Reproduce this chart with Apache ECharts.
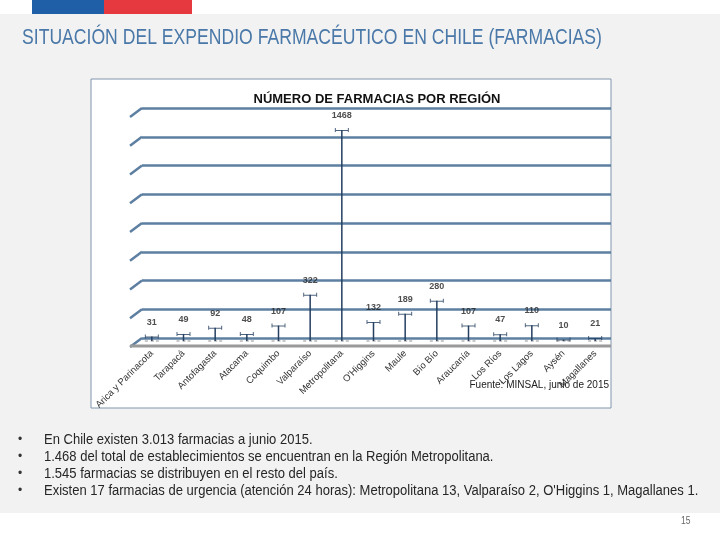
<!DOCTYPE html>
<html>
<head>
<meta charset="utf-8">
<script src="https://cdn.jsdelivr.net/npm/echarts@6/dist/echarts.min.js"></script>
<style>
  html, body { margin: 0; padding: 0; background: #fff; }
  #chart { width: 720px; height: 540px; }
</style>
</head>
<body>
<div id="chart"></div>
<script>
// regiones y numero de farmacias (MINSAL, junio 2015)
const regiones = ['Arica y Parinacota', 'Tarapacá', 'Antofagasta', 'Atacama', 'Coquimbo',
  'Valparaíso', 'Metropolitana', "O'Higgins", 'Maule', 'Bío Bío', 'Araucanía',
  'Los Ríos', 'Los Lagos', 'Aysén', 'Magallanes'];
const farmacias = [31, 49, 92, 48, 107, 322, 1468, 132, 189, 280, 107, 47, 110, 10, 21];
const yMax = 1600;
const yStep = 200;

const bullets = [
  'En Chile existen 3.013 farmacias a junio 2015.',
  '1.468 del total de establecimientos se encuentran en la Región Metropolitana.',
  '1.545 farmacias se distribuyen en el resto del país.',
  "Existen 17 farmacias de urgencia (atención 24 horas): Metropolitana 13, Valparaíso 2, O'Higgins 1, Magallanes 1."
];

const sans = "'Liberation Sans', sans-serif";
const navy = '#243f60';
const gridBlue = '#5d7fa1';

const chart = echarts.init(document.getElementById('chart'));

// texto angosto (no hay fuente narrow instalada): se comprime en x
function narrowText(x, y, text, size, color, sx) {
  return { type: 'text', x: x, y: y, scaleX: sx, scaleY: 1,
    style: { text: text, font: size + 'px ' + sans, fill: color, align: 'left', verticalAlign: 'middle' } };
}

const graphics = [
  { type: 'rect', shape: { x: 0, y: 14, width: 720, height: 499 }, style: { fill: '#f2f2f2' }, z: -10 },
  { type: 'rect', shape: { x: 32, y: 0, width: 72, height: 14 }, style: { fill: '#1f5fa8' } },
  { type: 'rect', shape: { x: 104, y: 0, width: 88, height: 14 }, style: { fill: '#e5383f' } },
  { type: 'rect', shape: { x: 91, y: 79, width: 520, height: 329 },
    style: { fill: '#fff', stroke: '#8096ad', lineWidth: 1 }, z: -9 },
  narrowText(22, 38, 'SITUACIÓN DEL EXPENDIO FARMACÉUTICO EN CHILE (FARMACIAS)', 22, '#4a78a8', 0.8),
  narrowText(681, 521, '15', 10, '#666', 0.85)
];
bullets.forEach((t, i) => {
  graphics.push(narrowText(18, 440 + i * 17, '•', 12, '#333', 1));
  graphics.push(narrowText(44, 440 + i * 17, t, 14, '#262626', 0.93));
});

chart.setOption({
  animation: false,
  title: [
    { text: 'NÚMERO DE FARMACIAS POR REGIÓN', left: 372, top: 88, textAlign: 'center',
      textStyle: { fontFamily: 'Liberation Sans', fontSize: 13, fontWeight: 'bold', color: '#111' } },
    { text: 'Fuente: MINSAL, junio de 2015', right: 106, top: 375,
      textStyle: { fontFamily: 'Liberation Sans', fontSize: 10, fontWeight: 'normal', color: '#222' } }
  ],
  grid: [
    { left: 142, right: 109, top: 108, bottom: 202 },
    { left: 136, right: 109, top: 111, bottom: 199 }
  ],
  xAxis: [
    { gridIndex: 0, type: 'category', data: regiones, show: false },
    { gridIndex: 1, type: 'category', data: regiones,
      axisLine: { show: false }, axisTick: { show: false },
      axisLabel: { interval: 0, rotate: 45, margin: 11, fontFamily: 'Liberation Sans', fontSize: 9.5, color: '#333' } }
  ],
  yAxis: [
    { gridIndex: 0, type: 'value', min: 0, max: yMax, interval: yStep,
      axisLine: { show: false }, axisTick: { show: false }, axisLabel: { show: false },
      splitLine: { lineStyle: { color: gridBlue, width: 2.5 } } },
    { gridIndex: 1, type: 'value', min: 0, max: yMax, interval: yStep, show: false,
      splitLine: { show: false } }
  ],
  series: [
    { type: 'bar', xAxisIndex: 1, yAxisIndex: 1, data: farmacias, barWidth: 1.5,
      itemStyle: { color: navy }, z: 3 },
    { type: 'scatter', xAxisIndex: 1, yAxisIndex: 1, data: farmacias.map(() => 0),
      symbol: 'path://M0,0H3V1H0Z M6,0H9V1H6Z M11,0H14V1H11Z', symbolSize: [14, 1],
      itemStyle: { color: '#777' }, z: 2 },
    { type: 'scatter', xAxisIndex: 1, yAxisIndex: 1, data: farmacias,
      symbol: 'path://M0,0H1V2H13V0H14V4H13V3H1V4H0Z', symbolSize: [14, 4],
      itemStyle: { color: navy }, z: 4,
      label: { show: true, position: 'top', distance: 8, fontFamily: 'Liberation Sans',
        fontSize: 9, fontWeight: 'bold', color: '#222' } }
  ],
  graphic: graphics
});

// decoracion 3D: tramos inclinados a la izquierda de cada linea y piso gris
const deco = [];
for (let v = 0; v <= yMax; v += yStep) {
  const y = chart.convertToPixel({ yAxisIndex: 0 }, v);
  deco.push({ type: 'line', shape: { x1: 130, y1: y + 9, x2: 142, y2: y },
    style: { stroke: gridBlue, lineWidth: 2.5 } });
}
const y0 = chart.convertToPixel({ yAxisIndex: 0 }, 0);
deco.push({ type: 'line', shape: { x1: 130, y1: y0 + 8, x2: 611, y2: y0 + 8 },
  style: { stroke: '#9a9a9a', lineWidth: 3 } });
chart.setOption({ graphic: graphics.concat(deco) });
</script>
</body>
</html>
